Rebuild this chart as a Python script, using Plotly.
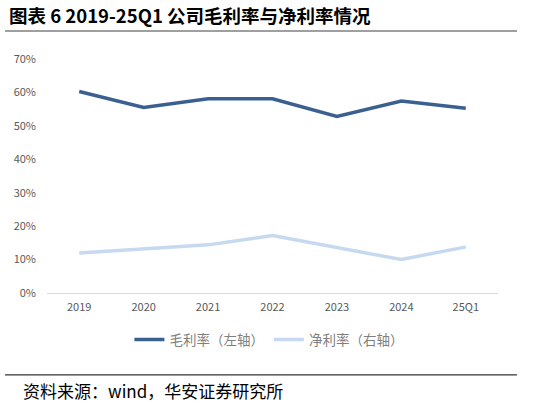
import plotly.graph_objects as go

# 年份 / 毛利率 / 净利率 (%)
years = ["2019", "2020", "2021", "2022", "2023", "2024", "25Q1"]
gross_margin = [60.3, 55.5, 58.1, 58.1, 52.8, 57.4, 55.3]
net_margin = [12.0, 13.2, 14.4, 17.2, 13.5, 10.0, 13.8]
y_ticks = [0, 10, 20, 30, 40, 50, 60, 70]

FONT = "Noto Sans CJK SC"

fig = go.Figure()

fig.add_trace(go.Scatter(
    x=years, y=gross_margin, mode="lines", name="毛利率（左轴）",
    line=dict(color="#3A6092", width=3.5),
))
fig.add_trace(go.Scatter(
    x=years, y=net_margin, mode="lines", name="净利率（右轴）",
    line=dict(color="#C6D9F1", width=3.5),
))

fig.update_layout(
    width=541, height=406,
    margin=dict(l=47, r=43, t=59, b=113),
    paper_bgcolor="white", plot_bgcolor="white",
    font=dict(family=FONT, size=11, color="#595959"),
    showlegend=True,
    legend=dict(
        orientation="h", x=0.492, xanchor="center", y=-0.2, yanchor="middle",
        font=dict(size=13.5, color="#7f7f7f"), itemwidth=30,
        traceorder="normal",
    ),
    xaxis=dict(
        type="category", range=[-0.5, 6.5], showgrid=False, showline=True,
        linecolor="#d9d9d9", linewidth=1, ticks="",
        tickfont=dict(size=11, color="#595959"), ticklabelstandoff=4,
    ),
    yaxis=dict(
        range=[0, 70], tickvals=y_ticks,
        ticktext=[f"{v}%" for v in y_ticks],
        showgrid=False, zeroline=False, showline=False,
        tickfont=dict(size=11, color="#595959"), ticklabelstandoff=10,
    ),
)

# 标题 + 分隔线
fig.add_annotation(
    text="<b>图表 6 2019-25Q1 公司毛利率与净利率情况</b>",
    xref="paper", yref="paper", x=-0.088, y=1.19, xanchor="left", yanchor="middle",
    showarrow=False, font=dict(family=FONT, size=18.5, color="#000000"),
)
fig.add_shape(type="line", xref="paper", yref="paper", x0=-0.093, x1=1.042, y0=1.12, y1=1.12,
              line=dict(color="#7f7f7f", width=1.5))

# 资料来源
fig.add_shape(type="line", xref="paper", yref="paper", x0=-0.093, x1=1.042, y0=-0.35, y1=-0.35,
              line=dict(color="#000000", width=1))
fig.add_annotation(
    text="资料来源：wind，华安证券研究所",
    xref="paper", yref="paper", x=-0.057, y=-0.415, xanchor="left", yanchor="middle",
    showarrow=False, font=dict(family=FONT, size=17, color="#000000"),
)

fig.write_html("out.html", config={"displayModeBar": False},
               post_script="document.body.style.margin='0';")
